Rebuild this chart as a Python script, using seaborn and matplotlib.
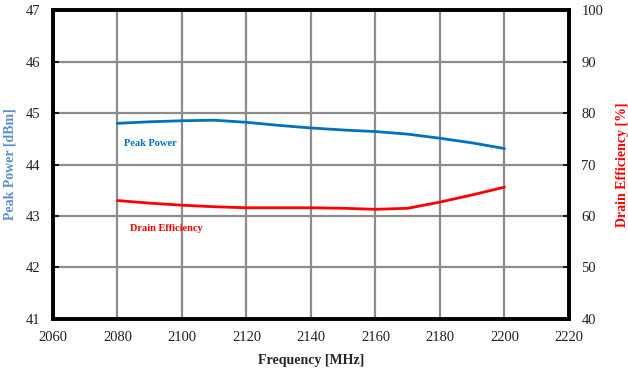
import matplotlib
matplotlib.use("Agg")
import matplotlib.pyplot as plt
import seaborn as sns
import pandas as pd

# Measured performance versus frequency
frequency_mhz = [2080, 2090, 2100, 2110, 2120, 2130, 2140, 2150, 2160, 2170, 2180, 2190, 2200]
peak_power_dbm = [44.80, 44.83, 44.85, 44.86, 44.82, 44.76, 44.71, 44.67, 44.64, 44.59, 44.51, 44.42, 44.31]
drain_eff_pct = [63.0, 62.5, 62.1, 61.8, 61.6, 61.6, 61.6, 61.5, 61.3, 61.5, 62.7, 64.1, 65.6]

x_ticks = [2060, 2080, 2100, 2120, 2140, 2160, 2180, 2200, 2220]
left_ticks = [41, 42, 43, 44, 45, 46, 47]
right_ticks = [40, 50, 60, 70, 80, 90, 100]

df = pd.DataFrame({"freq": frequency_mhz, "power": peak_power_dbm, "eff": drain_eff_pct})

sns.set_theme(style="white")
plt.rcParams["font.family"] = ["Liberation Serif", "DejaVu Serif"]

fig = plt.figure(figsize=(6.28, 3.72), dpi=100)
ax = fig.add_axes([0.0844, 0.1425, 0.8216, 0.8305])
ax2 = ax.twinx()

blue = "#0070C0"
red = "#FF0000"

sns.lineplot(data=df, x="freq", y="power", ax=ax, color=blue, linewidth=2.0)
sns.lineplot(data=df, x="freq", y="eff", ax=ax2, color=red, linewidth=2.0)

ax.set_xlim(2060, 2220)
ax.set_ylim(41, 47)
ax2.set_ylim(40, 100)
ax.set_xticks(x_ticks)
ax.set_yticks(left_ticks)
ax2.set_yticks(right_ticks)

ax.grid(True, color="#8c8c8c", linewidth=1.6)
ax.set_axisbelow(True)
ax2.grid(False)

for a in (ax, ax2):
    for s in a.spines.values():
        s.set_color("black")
        s.set_linewidth(2.6)
    a.tick_params(axis="both", direction="in", length=4, width=1.2, color="black",
                  labelsize=10.5, labelcolor="#222222", pad=9)

ax.set_xlabel("Frequency [MHz]", fontsize=10, fontweight="bold", labelpad=7)
ax.set_ylabel("Peak Power [dBm]", fontsize=10, fontweight="bold", color="#5B8FD0", labelpad=7)
ax2.set_ylabel("Drain Efficiency [%]", fontsize=10, fontweight="bold", color=red, labelpad=9)

ax.text(2082, 44.4, "Peak Power", color=blue, fontsize=7.5, fontweight="bold", va="center")
ax2.text(2084, 57.5, "Drain Efficiency", color=red, fontsize=7.5, fontweight="bold", va="center")

fig.savefig("out.png", dpi=100)
